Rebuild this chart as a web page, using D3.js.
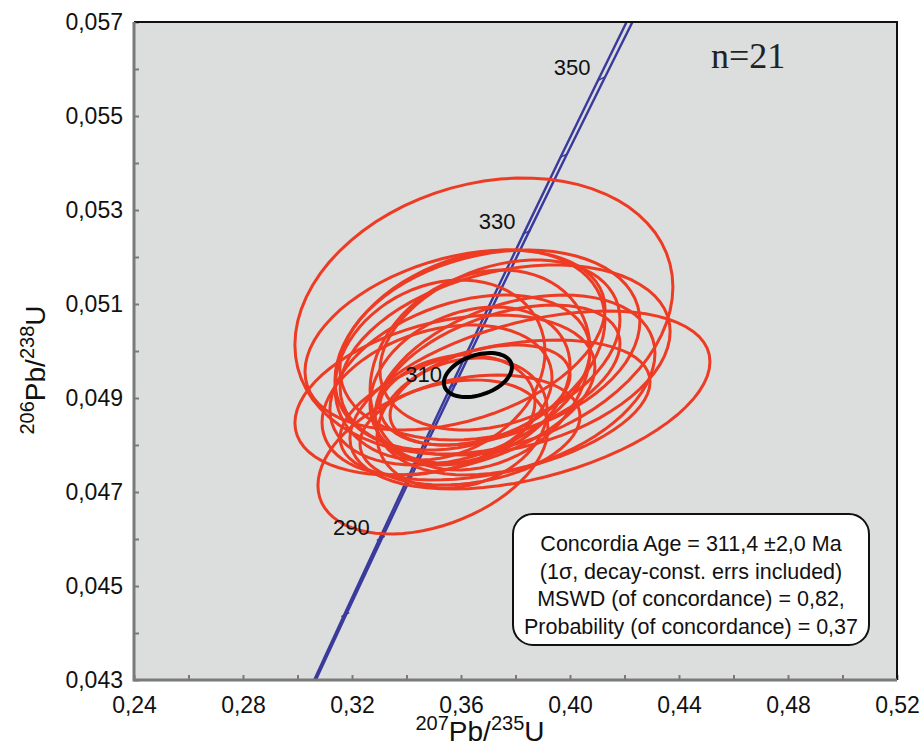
<!DOCTYPE html>
<html><head><meta charset="utf-8">
<script src="https://cdn.jsdelivr.net/npm/d3@7"></script>
<style>
html,body{margin:0;padding:0;background:#fff;}
svg{display:block;font-family:"Liberation Sans",Arial,sans-serif;}
</style></head>
<body><svg id="c" width="922" height="749"></svg>
<script>
// ---- data ----
const xDomain = [0.24, 0.52];
const yDomain = [0.043, 0.057];
const xTickValues = [0.24,0.26,0.28,0.30,0.32,0.34,0.36,0.38,0.40,0.42,0.44,0.46,0.48,0.50,0.52];
const xTickLabels = ["0,24","","0,28","","0,32","","0,36","","0,40","","0,44","","0,48","","0,52"];
const yTickValues = [0.043,0.044,0.045,0.046,0.047,0.048,0.049,0.050,0.051,0.052,0.053,0.054,0.055,0.056,0.057];
const yTickLabels = ["0,043","","0,045","","0,047","","0,049","","0,051","","0,053","","0,055","","0,057"];

// concordia curve (207Pb/235U, 206Pb/238U) by age in Ma
const concordiaAge = [270,280,290,300,310,320,330,340,350,360];
const concordiaX = [0.304617,0.317529,0.330568,0.343737,0.357037,0.370467,0.384032,0.397729,0.411563,0.425533];
const concordiaY = [0.0427731,0.0443920,0.0460133,0.0476372,0.0492635,0.0508925,0.0525239,0.0541578,0.0557943,0.0574334];
const concordiaErrX = [0.0003,0.00035,0.0004,0.0005,0.0006,0.0007,0.0008,0.0009,0.001,0.0011];
const labelledAges = [290,310,330,350];

// analyses: centre, half-axes (x,y) and error correlation
const ellX   = [0.3684,0.3853,0.3497,0.3578,0.3633,0.3706,0.3762,0.3670,0.3633,0.3596,0.3512,0.3604,0.3670,0.3743,0.3541,0.3798,0.3633,0.3523,0.3725,0.3578,0.3743];
const ellY   = [0.050745,0.048957,0.047745,0.050234,0.050021,0.050128,0.049809,0.049596,0.049277,0.049383,0.048957,0.048468,0.049064,0.049489,0.049064,0.049277,0.048319,0.049596,0.048745,0.048745,0.050128];
const ellSX  = [0.06936,0.06606,0.0422,0.05505,0.04954,0.05505,0.06055,0.04037,0.0367,0.04771,0.0422,0.0312,0.03303,0.04404,0.05505,0.05138,0.04037,0.03853,0.05688,0.02936,0.04404];
const ellSY  = [0.002936,0.001894,0.001638,0.001915,0.002128,0.002021,0.002021,0.002128,0.00166,0.001809,0.001596,0.001383,0.001064,0.001489,0.001702,0.001915,0.00117,0.001915,0.001489,0.00117,0.001809];
const ellRho = [0.21,0.43,0.37,0.35,0.30,0.25,0.30,0.20,0.25,0.35,0.30,0.20,0.40,0.45,0.35,0.35,0.25,0.20,0.40,0.15,0.30];

// concordia age ellipse
const ageEll = {x:0.3662, y:0.049489, sx:0.01248, sy:0.000468, rho:0.35};

const nLabel = "n=21";
const boxLines = ["Concordia Age = 311,4 ±2,0 Ma","(1σ, decay-const. errs included)","MSWD (of concordance) = 0,82,","Probability (of concordance) = 0,37"];

// ---- drawing ----
const svg = d3.select("#c");
const L=134, R=897, T=22, B=680;
const x = d3.scaleLinear().domain(xDomain).range([L,R]);
const y = d3.scaleLinear().domain(yDomain).range([B,T]);

svg.append("rect").attr("x",L).attr("y",T).attr("width",R-L).attr("height",B-T).attr("fill","#dcdddd");

svg.append("defs").append("clipPath").attr("id","clip")
  .append("rect").attr("x",L).attr("y",T).attr("width",R-L).attr("height",B-T);

// axes
const xAxis = d3.axisBottom(x).tickValues(xTickValues).tickSize(-5).tickPadding(17)
  .tickFormat((d,i)=>xTickLabels[i]);
const gx = svg.append("g").attr("transform",`translate(0,${B})`).call(xAxis);
const yAxis = d3.axisLeft(y).tickValues(yTickValues).tickSize(-5).tickPadding(11)
  .tickFormat((d,i)=>yTickLabels[i]);
const gy = svg.append("g").attr("transform",`translate(${L},0)`).call(yAxis);
[gx,gy].forEach(g=>{
  g.select(".domain").remove();
  g.selectAll(".tick line").attr("stroke","#7a7a7a").attr("stroke-width",2);
  g.selectAll(".tick text").attr("fill","#111").attr("font-size",23).attr("font-family","'Liberation Sans',Arial,sans-serif");
});

// concordia band
const plot = svg.append("g").attr("clip-path","url(#clip)");
const cLine = d3.line().x(d=>x(d[0])).y(d=>y(d[1]));
[-1,1].forEach(s=>{
  plot.append("path")
    .attr("d", cLine(concordiaAge.map((a,i)=>[concordiaX[i]+s*concordiaErrX[i], concordiaY[i]])))
    .attr("fill","none").attr("stroke","#3a3a9c").attr("stroke-width",2.4);
});
// age marks
concordiaAge.forEach((a,i)=>{
  const px=x(concordiaX[i]), py=y(concordiaY[i]);
  plot.append("path").attr("d",`M${px-4},${py+2}L${px+4},${py-2}`)
    .attr("stroke","#3a3a9c").attr("stroke-width",1.5);
});

// ellipses
function ellPath(cx,cy,sx,sy,rho){
  const pts=[]; const n=72; const q=Math.sqrt(1-rho*rho);
  for(let k=0;k<n;k++){const t=2*Math.PI*k/n;
    pts.push([cx+sx*Math.cos(t), cy+sy*(rho*Math.cos(t)+q*Math.sin(t))]);}
  return d3.line().x(d=>x(d[0])).y(d=>y(d[1])).curve(d3.curveLinearClosed)(pts);
}
ellX.forEach((v,i)=>{
  plot.append("path").attr("d",ellPath(ellX[i],ellY[i],ellSX[i],ellSY[i],ellRho[i]))
    .attr("fill","none").attr("stroke","#ee3b24").attr("stroke-width",3);
});
plot.append("path").attr("d",ellPath(ageEll.x,ageEll.y,ageEll.sx,ageEll.sy,ageEll.rho))
  .attr("fill","none").attr("stroke","#000").attr("stroke-width",4);

// age labels
labelledAges.forEach(a=>{
  const i=concordiaAge.indexOf(a);
  svg.append("text").attr("x",x(concordiaX[i])-11).attr("y",y(concordiaY[i])-3.5)
    .attr("text-anchor","end").attr("font-size",22).attr("fill","#111").text(a);
});

// frame
svg.append("path").attr("d",`M${L},${T}H${R}V${B}`).attr("fill","none").attr("stroke","#111").attr("stroke-width",2);
svg.append("path").attr("d",`M${L},${T}V${B}H${R}`).attr("fill","none").attr("stroke","#7a7a7a").attr("stroke-width",3);

// n label
svg.append("text").attr("x",711).attr("y",68).attr("font-family","'Liberation Serif','Times New Roman',serif")
  .attr("font-size",36).attr("fill","#222").text(nLabel);

// result box
const bx=513, by=514, bw=356, bh=131;
svg.append("rect").attr("x",bx).attr("y",by).attr("width",bw).attr("height",bh).attr("rx",20).attr("ry",20)
  .attr("fill","#fff").attr("stroke","#111").attr("stroke-width",2);
boxLines.forEach((t,i)=>{
  svg.append("text").attr("x",bx+bw/2).attr("y",by+37+i*27.5).attr("text-anchor","middle")
    .attr("font-size",21.5).attr("fill","#111").text(t);
});

// axis titles
const xt = svg.append("text").attr("x",480).attr("y",741).attr("text-anchor","middle").attr("fill","#111");
xt.append("tspan").attr("font-size",20).attr("dy",-11).text("207");
xt.append("tspan").attr("font-size",28).attr("dy",11).text("Pb/");
xt.append("tspan").attr("font-size",20).attr("dy",-11).text("235");
xt.append("tspan").attr("font-size",28).attr("dy",11).text("U");

const yt = svg.append("text").attr("transform","translate(45,370) rotate(-90)").attr("text-anchor","middle").attr("fill","#111");
yt.append("tspan").attr("font-size",20).attr("dy",-11).text("206");
yt.append("tspan").attr("font-size",28).attr("dy",11).text("Pb/");
yt.append("tspan").attr("font-size",20).attr("dy",-11).text("238");
yt.append("tspan").attr("font-size",28).attr("dy",11).text("U");
</script></body></html>
